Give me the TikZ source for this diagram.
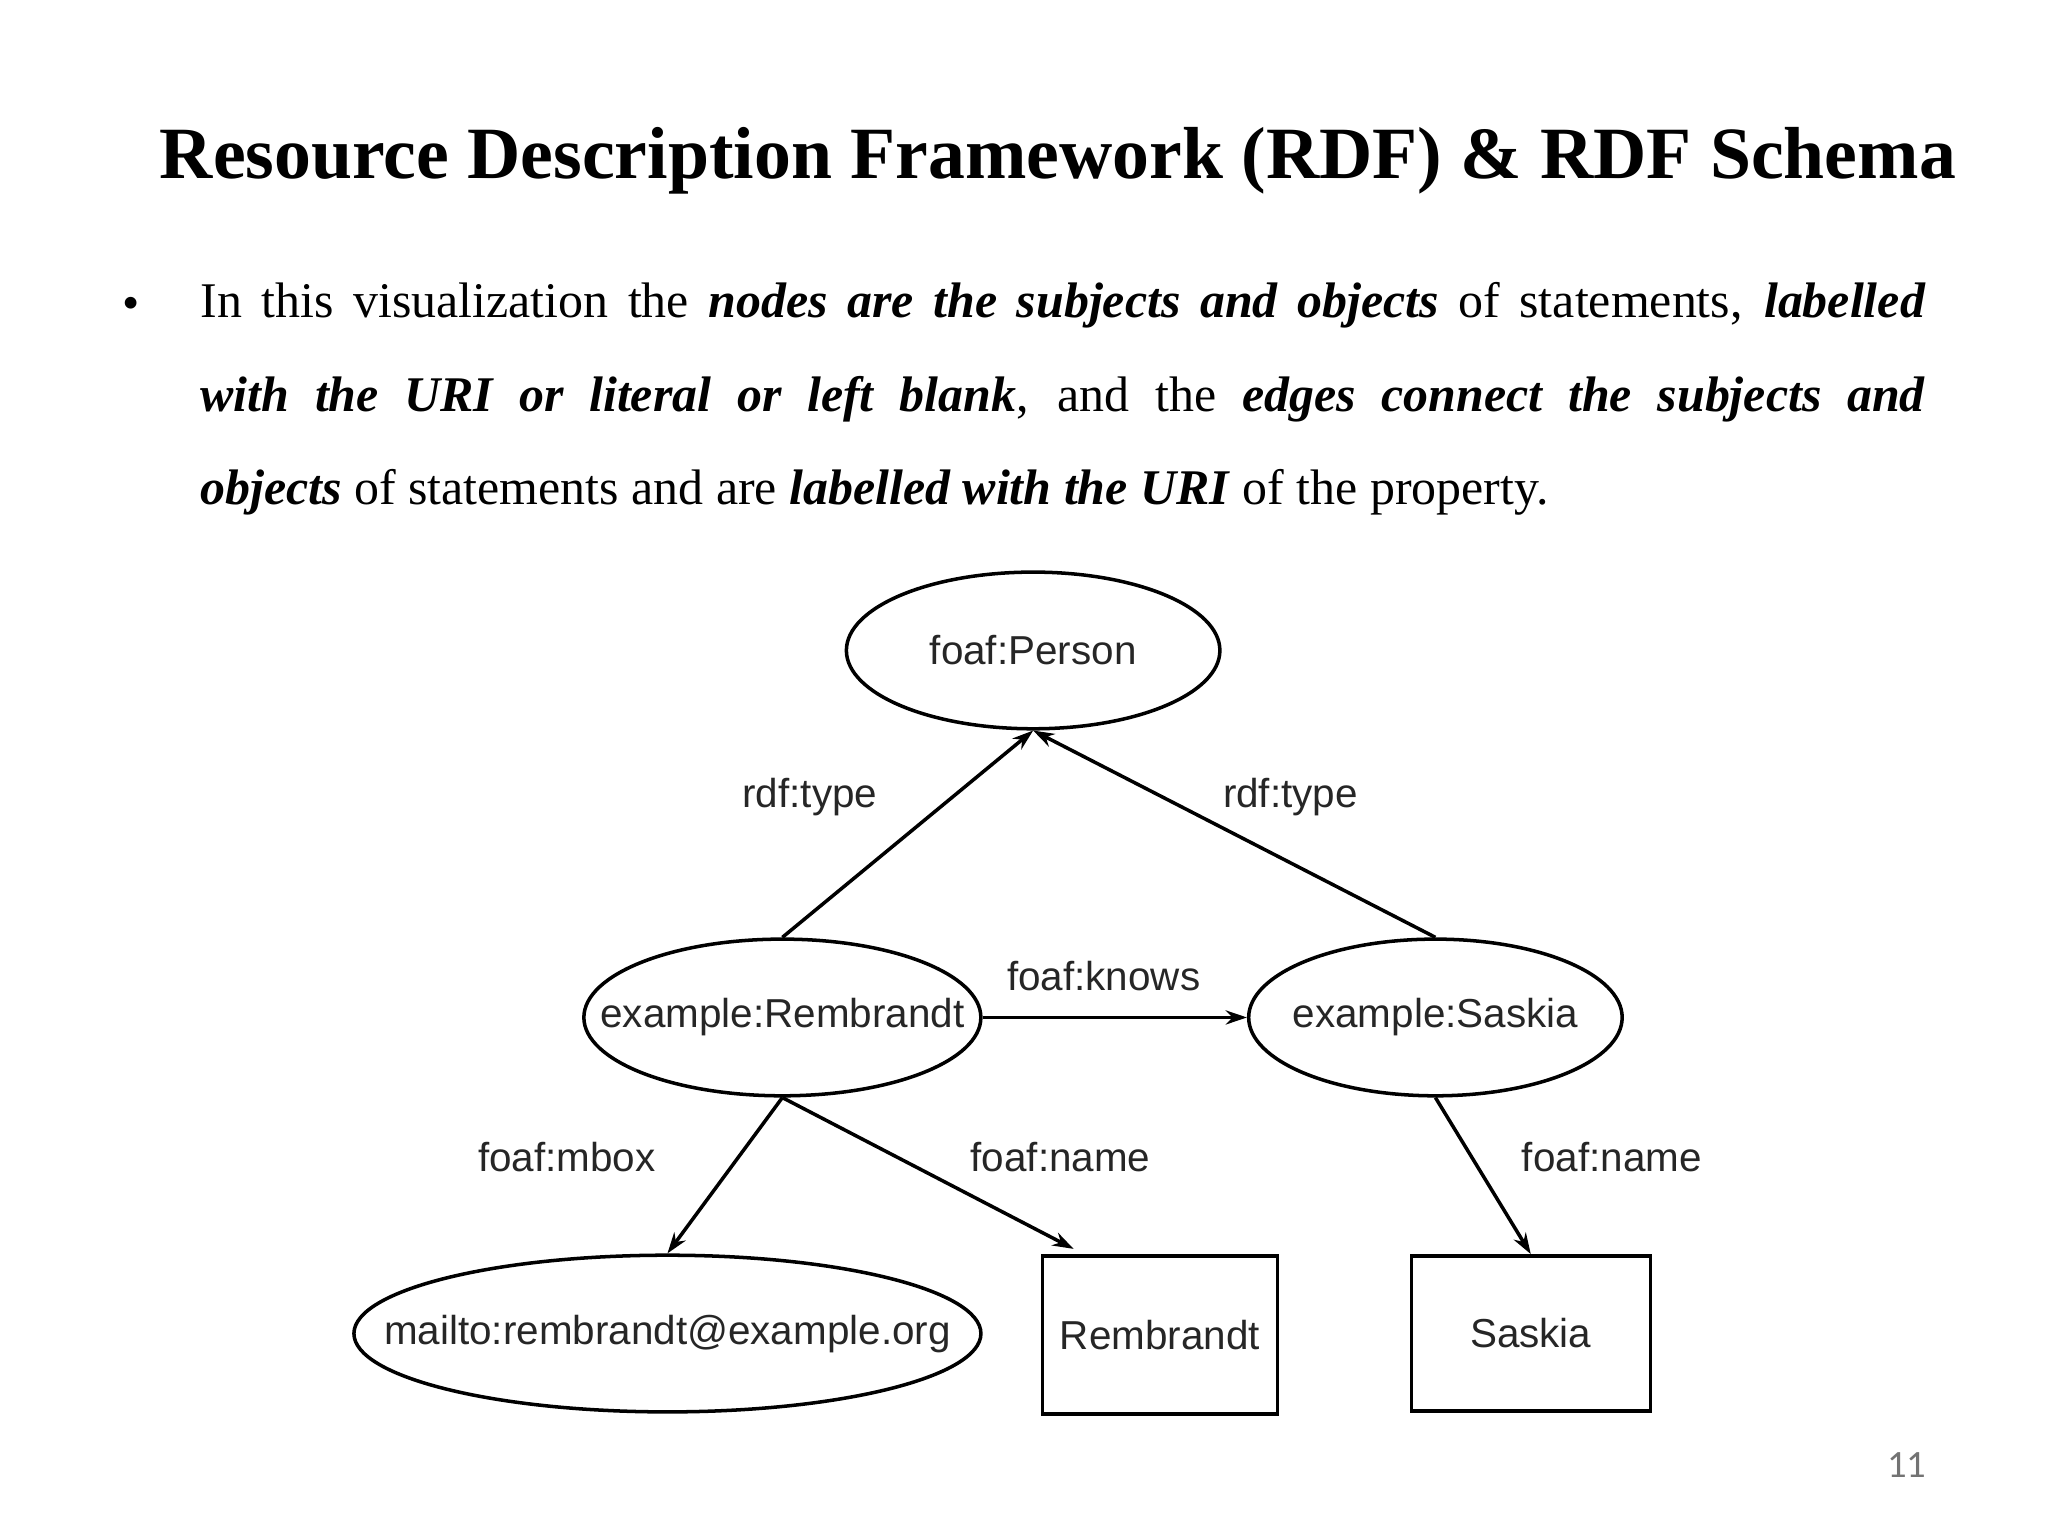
\documentclass[tikz,border=0pt]{standalone}
\usepackage{fontspec}
\setmainfont{Liberation Serif}
\newfontfamily\diag{Liberation Sans}
\newfontfamily\pg{Carlito}
\usetikzlibrary{shapes.geometric,arrows.meta,calc}
\newcommand{\zw}[1]{\makebox[0pt]{#1}}
\begin{document}
\begin{tikzpicture}[x=0.01306cm,y=-0.01306cm,
  ell/.style={draw,line width=1pt,ellipse,inner sep=0pt,font=\diag\fontsize{11.5}{13}\selectfont,text=black!85},
  box/.style={draw,line width=1pt,rectangle,inner sep=0pt,font=\diag\fontsize{11.5}{13}\selectfont,text=black!85},
  lab/.style={font=\diag\fontsize{11.5}{13}\selectfont,text=black!85},
  edge/.style={line width=1pt,-{Stealth[length=6pt,width=4pt]}}]
\useasboundingbox (0,0) rectangle (1568,1176);
\node (title) at (810,123) {\resizebox{17.96cm}{!}{\bfseries Resource Description Framework (RDF) \& RDF Schema}};
\node (bul) at (100,236) {\fontsize{14}{26}\selectfont •};
\node[anchor=north west,inner sep=0pt,text width=17.25cm,align=justify,font=\fontsize{14.2}{26.5}\selectfont] (par) at (153,216)
 {In this visualization the \textbf{\textit{nodes are the subjects and objects}} of statements, \textbf{\textit{labelled}}\linebreak \textbf{\textit{with the URI or literal or left blank}}, and the \textbf{\textit{edges connect the subjects and}}\linebreak \textbf{\textit{objects}} of statements and are \textbf{\textit{labelled with the URI}} of the property.};
\node[ell,minimum width=3.735cm,minimum height=1.567cm] (person) at (791,498) {\zw{foaf:Person}};
\node[ell,minimum width=3.97cm,minimum height=1.567cm] (remb) at (599,779) {\zw{example:Rembrandt}};
\node[ell,minimum width=3.735cm,minimum height=1.567cm] (sask) at (1099,779) {\zw{example:Saskia}};
\node[ell,minimum width=6.27cm,minimum height=1.567cm] (mail) at (511,1021) {\zw{mailto:rembrandt@example.org}};
\node[box,minimum width=2.35cm,minimum height=1.58cm] (lrem) at (888,1022) {Rembrandt};
\node[box,minimum width=2.39cm,minimum height=1.554cm] (lsas) at (1172,1021) {Saskia};
\coordinate (lremt) at ($(lrem.north)+(-66,-4)$);
\draw[edge] (remb.north) -- (person.south);
\draw[edge] (sask.north) -- (person.south);
\draw[edge] (remb.east) -- (sask.west);
\draw[edge] (remb.south) -- (mail.north);
\draw[edge] (remb.south) -- (lremt);
\draw[edge] (sask.south) -- (lsas.north);
\node[lab] (l1) at (620,610) {rdf:type};
\node[lab] (l2) at (988,610) {rdf:type};
\node[lab] (l3) at (845,747) {foaf:knows};
\node[lab] (l4) at (434,886) {foaf:mbox};
\node[lab] (l5) at (812,886) {foaf:name};
\node[lab] (l6) at (1234,886) {foaf:name};
\node[text=black!55,font=\pg\fontsize{11}{13}\selectfont] (pn) at (1460,1122) {11};
\end{tikzpicture}
\end{document}
